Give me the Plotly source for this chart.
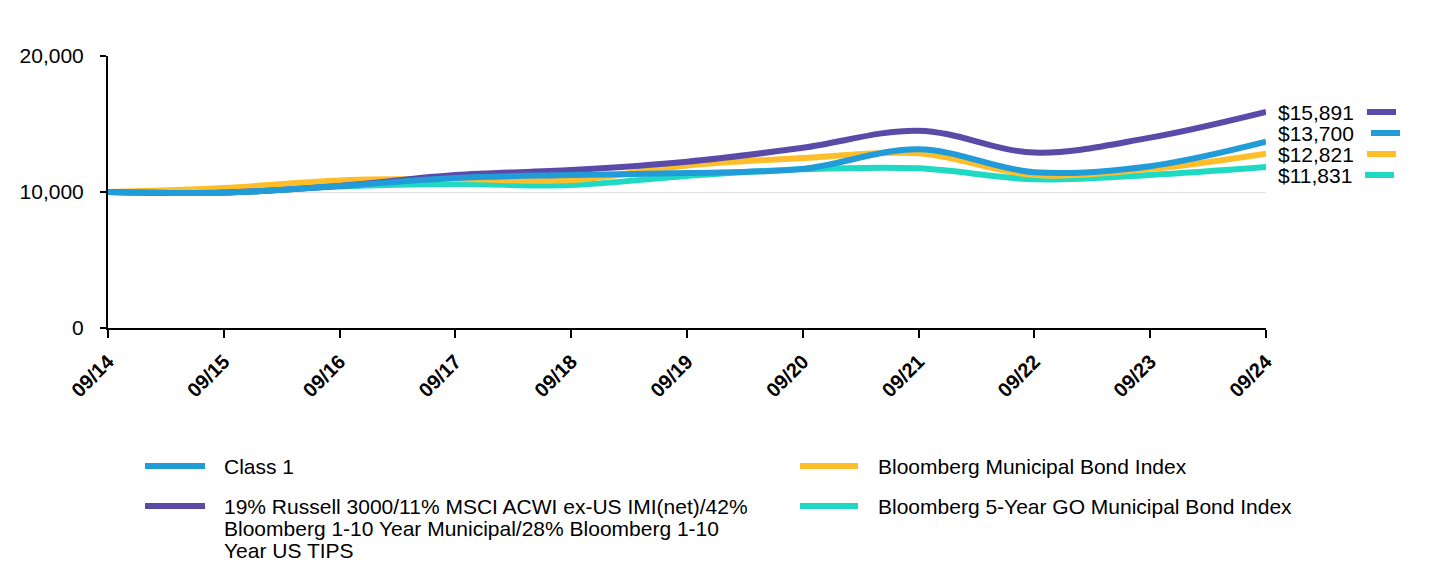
import plotly.graph_objects as go

dates = ["09/14", "09/15", "09/16", "09/17", "09/18", "09/19", "09/20", "09/21", "09/22", "09/23", "09/24"]
class1 = [10000, 9950, 10440, 11030, 11250, 11400, 11700, 13140, 11450, 11900, 13700]
blend = [10000, 9960, 10450, 11250, 11620, 12230, 13250, 14510, 12900, 14000, 15891]
muni = [10000, 10300, 10850, 10950, 10880, 11950, 12500, 12840, 11250, 11700, 12821]
go5 = [10000, 9950, 10400, 10580, 10510, 11180, 11670, 11740, 10930, 11250, 11831]

names = [["Class 1"],
         ["19% Russell 3000/11% MSCI ACWI ex-US IMI(net)/42%",
          "Bloomberg 1-10 Year Municipal/28% Bloomberg 1-10",
          "Year US TIPS"],
         ["Bloomberg Municipal Bond Index"],
         ["Bloomberg 5-Year GO Municipal Bond Index"]]
end_labels = ["$13,700", "$15,891", "$12,821", "$11,831"]
colors = ["#229CD8", "#5A4BA8", "#FDBE2A", "#20D9C3"]
series = [class1, blend, muni, go5]

FONT = "Liberation Sans, Arial, sans-serif"
FS = 21
OFF = 8  # page body margin
W, H = 1440 - OFF, 576 - OFF
# plot area in page pixels
PX0, PX1, PY0, PY1 = 108, 1266, 56, 328
L, T = PX0 - OFF, PY0 - OFF
R, B = W - (PX1 - OFF), H - (PY1 - OFF)
PW, PH = PX1 - PX0, PY1 - PY0

def px_x(x):
    return (x - PX0) / PW

def px_y(y):
    return (PY1 - y) / PH

fig = go.Figure()
for i in [3, 2, 1, 0]:
    fig.add_trace(go.Scatter(x=list(range(len(dates))), y=series[i], mode="lines",
                             line=dict(color=colors[i], width=6, shape="spline", smoothing=1.0),
                             showlegend=False, hoverinfo="skip"))

shapes = []
annotations = []
end_pos = [(1, 112, 1367, 1396), (0, 133, 1371, 1400), (2, 154, 1367, 1396), (3, 175, 1365, 1394)]
for idx, ypx, x0, x1 in end_pos:
    annotations.append(dict(x=px_x(1276), y=px_y(ypx), xref="paper", yref="paper", xanchor="left",
                            yanchor="middle", text=end_labels[idx], showarrow=False,
                            font=dict(family=FONT, size=FS, color="#000")))
    shapes.append(dict(type="line", xref="paper", yref="paper", x0=px_x(x0), x1=px_x(x1),
                       y0=px_y(ypx), y1=px_y(ypx), line=dict(color=colors[idx], width=6)))

leg = [(0, 145, 205, 222, 466), (1, 145, 205, 222, 506), (2, 800, 858, 876, 466), (3, 800, 858, 876, 506)]
for idx, x0, x1, tx, ypx in leg:
    shapes.append(dict(type="line", xref="paper", yref="paper", x0=px_x(x0), x1=px_x(x1),
                       y0=px_y(ypx), y1=px_y(ypx), line=dict(color=colors[idx], width=6)))
    for k, line_text in enumerate(names[idx]):
        annotations.append(dict(x=px_x(tx), y=px_y(ypx + 22 * k), xref="paper", yref="paper",
                                xanchor="left", yanchor="middle", align="left", text=line_text,
                                showarrow=False, font=dict(family=FONT, size=FS, color="#000")))

fig.update_layout(
    width=W, height=H,
    margin=dict(l=L, r=R, t=T, b=B, pad=0),
    paper_bgcolor="white", plot_bgcolor="white",
    showlegend=False,
    shapes=shapes, annotations=annotations,
    xaxis=dict(tickmode="array", tickvals=list(range(len(dates))),
               ticktext=["<b>%s</b>" % d for d in dates], tickangle=-45,
               range=[0, len(dates) - 1], showgrid=False, zeroline=False,
               showline=True, linecolor="#000", linewidth=2,
               ticks="outside", ticklen=8, tickwidth=2, tickcolor="#000",
               ticklabelstandoff=4,
               tickfont=dict(family=FONT, size=20, color="#000")),
    yaxis=dict(range=[0, 20000], tickvals=[0, 10000, 20000], tickformat=",",
               showgrid=True, gridcolor="#DDDDDD", gridwidth=1, zeroline=False,
               showline=True, linecolor="#000", linewidth=2,
               ticks="outside", ticklen=6, tickwidth=2, tickcolor="#000",
               ticklabelstandoff=12,
               tickfont=dict(family=FONT, size=FS, color="#000")),
)

fig.write_html("out.html")
